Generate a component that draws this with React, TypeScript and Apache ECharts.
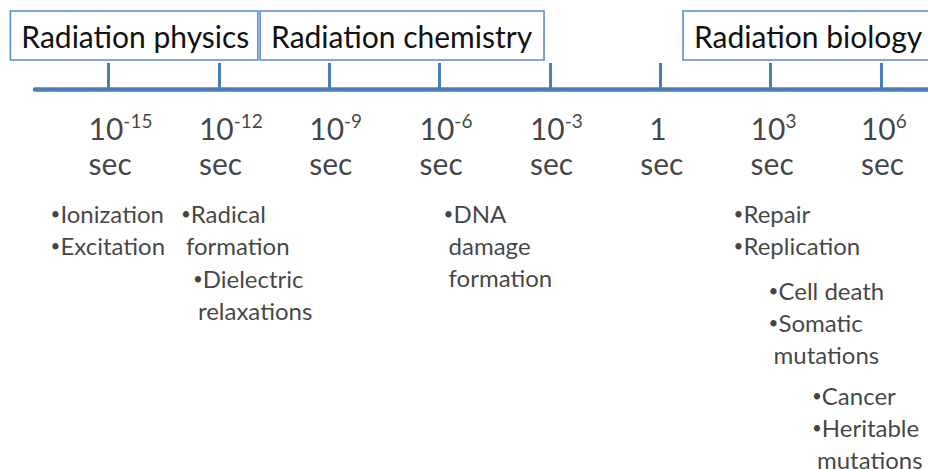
import React, { useEffect, useRef } from "react";
import * as echarts from "echarts";

// ---- data ----
const tickExponents = [-15, -12, -9, -6, -3, 0, 3, 6];
const tickUnit = "sec";

const phaseNames = ["Radiation physics", "Radiation chemistry", "Radiation biology"];
const phaseFrom = [-17.67, -10.88, 0.62];
const phaseTo = [-10.94, -3.16, 7.9];

const eventLines = [
  ["•Ionization", "•Excitation"],
  ["•Radical", "formation"],
  ["•Dielectric", "relaxations"],
  ["•DNA", "damage", "formation"],
  ["•Repair", "•Replication"],
  ["•Cell death", "•Somatic", "mutations"],
  ["•Cancer", "•Heritable", "mutations"],
];
const eventAt = [-15, -12, -12, -6, 3, 3, 6];

// ---- layout (pixels) ----
const AXIS_Y = 89;
const eventDx = [-58, -38, -26, 4, -37, -2, -69];
const eventRowY = [213, 213, 278, 213, 213, 290, 395];
const LINE_H = 32;

const FONT = "Lato, 'Noto Sans', sans-serif";
const TEXT = "#111111";
const BLUE = "#4a7ebb";
const BOX_BLUE = "#5b8bd0";

function tickText(e: number): string {
  if (e === 0) return `{q|1}\n{n|${tickUnit}}`;
  return `{n|10}{s|${e}}\n{n|${tickUnit}}`;
}

function eventText(lines: string[]): string {
  return lines
    .map((l) => (l.startsWith("•") ? `{b|•}{t|${l.slice(1)}}` : `{c|${l}}`))
    .join("\n");
}

export default function App() {
  const ref = useRef<HTMLDivElement>(null);
  useEffect(() => {
    if (!ref.current) return;
    const chart = echarts.init(ref.current, null, { renderer: "svg" });
    const option: any = {
      animation: false,
      backgroundColor: "#ffffff",
      grid: { left: 35, right: 0, top: 0, bottom: 0 },
      xAxis: {
        type: "value",
        min: -17,
        max: 7.28,
        axisLine: {
          show: true,
          onZero: true,
          lineStyle: { color: BLUE, width: 4.5 },
        },
        axisTick: {
          show: true,
          inside: true,
          length: 26,
          customValues: tickExponents,
          lineStyle: { color: BLUE, width: 3 },
        },
        axisLabel: { show: false },
        splitLine: { show: false },
      },
      yAxis: {
        type: "value",
        min: -AXIS_Y,
        max: 469 - AXIS_Y,
        inverse: true,
        show: false,
        splitLine: { show: false },
      },
      series: [
        {
          type: "custom",
          clip: false,
          silent: true,
          encode: { x: [0, 1], y: 2 },
          data: phaseFrom.map((f, i) => [f, phaseTo[i], 0]),
          renderItem: (params: any, api: any) => {
            const x0 = api.coord([api.value(0), 0])[0];
            const x1 = api.coord([api.value(1), 0])[0];
            const yTop = api.coord([0, 11 - AXIS_Y])[1];
            const yBot = api.coord([0, 60 - AXIS_Y])[1];
            return {
              type: "group",
              children: [
                {
                  type: "rect",
                  shape: { x: x0, y: yTop, width: x1 - x0, height: yBot - yTop },
                  style: { fill: "#ffffff", stroke: BOX_BLUE, lineWidth: 1.6 },
                },
                {
                  type: "text",
                  x: x0 + 11,
                  y: (yTop + yBot) / 2,
                  style: {
                    text: phaseNames[params.dataIndex],
                    fontSize: 30,
                    fontFamily: FONT,
                    fill: TEXT,
                    align: "left",
                    verticalAlign: "middle",
                  },
                },
              ],
            };
          },
        },
        {
          type: "scatter",
          silent: true,
          clip: false,
          symbolSize: 1,
          itemStyle: { color: "rgba(0,0,0,0)" },
          data: tickExponents.map((e) => [e, 0]),
          label: {
            show: true,
            position: "inside",
            align: "left",
            verticalAlign: "top",
            offset: [-20, 21.5],
            formatter: (p: any) => tickText(p.value[0]),
            rich: {
              n: { fontSize: 30, fontFamily: FONT, color: TEXT, lineHeight: 35 },
              q: { fontSize: 30, fontFamily: FONT, color: TEXT, lineHeight: 35, padding: [0, 0, 0, 9] },
              s: { fontSize: 19, fontFamily: FONT, color: TEXT, lineHeight: 22, verticalAlign: "top" },
            },
          },
        },
        {
          type: "scatter",
          silent: true,
          clip: false,
          symbolSize: 1,
          itemStyle: { color: "rgba(0,0,0,0)" },
          data: eventAt.map((e, i) => ({
            value: [e, eventRowY[i] - AXIS_Y],
            label: { offset: [eventDx[i], -LINE_H / 2] },
          })),
          label: {
            show: true,
            position: "inside",
            align: "left",
            verticalAlign: "top",
            formatter: (p: any) => eventText(eventLines[p.dataIndex]),
            rich: {
              b: { fontSize: 17, fontFamily: FONT, color: TEXT, lineHeight: LINE_H },
              t: { fontSize: 24, fontFamily: FONT, color: TEXT, lineHeight: LINE_H },
              c: { fontSize: 24, fontFamily: FONT, color: TEXT, lineHeight: LINE_H, padding: [0, 0, 0, 5] },
            },
          },
        },
      ],
    };
    chart.setOption(option);
    return () => chart.dispose();
  }, []);
  return (
    <div
      ref={ref}
      style={{ position: "absolute", left: 0, top: 0, width: 928, height: 469 }}
    />
  );
}
